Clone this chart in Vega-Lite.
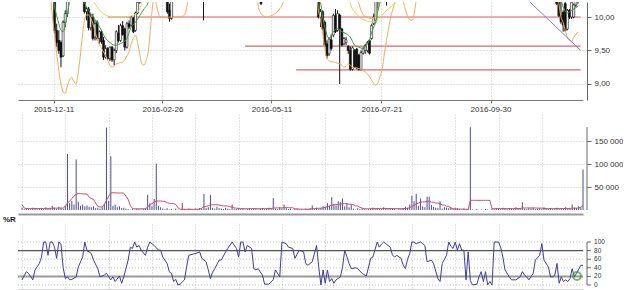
{
"$schema": "https://vega.github.io/schema/vega-lite/v6.json",
"padding": {"left": 3, "top": 0, "right": 0, "bottom": 0},
"background": "white",
"bounds": "flush",
"spacing": 14,
"resolve": {"scale": {"x": "independent", "y": "independent", "color": "independent"}},
"config": {
  "view": {"stroke": null},
  "font": "Liberation Sans",
  "axis": {"labelFont": "Liberation Sans", "labelFontSize": 8, "labelColor": "#333", "gridColor": "#c4c4c4", "gridDash": [1, 2], "gridWidth": 1, "domainColor": "#666", "tickColor": "#666", "labelFlush": false},
  "title": {"font": "Liberation Sans"}
},
"datasets": {
"lv": [{"a": 37.9, "b": 260.2, "p": 10.0}, {"a": 102.5, "b": 260.2, "p": 9.565}, {"a": 126.5, "b": 260.2, "p": 9.21}],
"tr": [{"i": 236.4, "p": 10.224}, {"i": 260.2, "p": 9.503}],
"mk": [{"i": 256.2, "r": 21}],
"rt": [{"r": 0, "t": "0"}, {"r": 20, "t": "20"}, {"r": 40, "t": "40"}, {"r": 60, "t": "60"}, {"r": 80, "t": "80"}, {"r": 100, "t": "100"}],
"px": [
{"i":13,"o":10.4,"h":10.45,"l":9.75,"c":9.8},{"i":14,"o":9.8,"h":9.9,"l":9.55,"c":9.62},{"i":15,"o":9.65,"h":9.8,"l":9.45,"c":9.5},{"i":16,"o":9.62,"h":9.65,"l":9.25,"c":9.4},{"i":17,"o":9.42,"h":9.95,"l":9.4,"c":9.92},{"i":18,"o":9.92,"h":10.1,"l":9.85,"c":10.05},{"i":19,"o":10.05,"h":10.35,"l":10.0,"c":10.3},
{"i":27,"o":10.38,"h":10.4,"l":10.05,"c":10.08},{"i":28,"o":10.08,"h":10.15,"l":9.95,"c":10.12},{"i":29,"o":10.12,"h":10.15,"l":9.8,"c":9.84},{"i":30,"o":9.84,"h":10.05,"l":9.8,"c":10.0},{"i":31,"o":10.0,"h":10.05,"l":9.65,"c":9.68},{"i":32,"o":9.7,"h":9.95,"l":9.65,"c":9.9},{"i":33,"o":9.92,"h":9.95,"l":9.65,"c":9.68},{"i":34,"o":9.68,"h":9.8,"l":9.6,"c":9.78},{"i":35,"o":9.78,"h":9.8,"l":9.6,"c":9.63},{"i":36,"o":9.65,"h":9.7,"l":9.36,"c":9.4},{"i":37,"o":9.4,"h":9.58,"l":9.38,"c":9.53},{"i":38,"o":9.53,"h":9.55,"l":9.36,"c":9.38},{"i":39,"o":9.38,"h":9.56,"l":9.34,"c":9.55},{"i":40,"o":9.55,"h":9.57,"l":9.33,"c":9.36},{"i":41,"o":9.36,"h":9.53,"l":9.28,"c":9.5},{"i":42,"o":9.5,"h":9.8,"l":9.46,"c":9.78},{"i":43,"o":9.76,"h":9.88,"l":9.62,"c":9.65},{"i":44,"o":9.65,"h":9.9,"l":9.63,"c":9.87},{"i":45,"o":9.87,"h":9.94,"l":9.72,"c":9.74},{"i":46,"o":9.82,"h":9.84,"l":9.5,"c":9.55},{"i":47,"o":9.55,"h":9.93,"l":9.53,"c":9.9},{"i":48,"o":9.9,"h":9.95,"l":9.82,"c":9.85},{"i":49,"o":9.88,"h":10.01,"l":9.86,"c":10.0},{"i":50,"o":9.98,"h":10.0,"l":9.76,"c":9.78},{"i":51,"o":9.8,"h":10.08,"l":9.78,"c":10.06},{"i":52,"o":10.06,"h":10.25,"l":10.04,"c":10.22},{"i":53,"o":10.22,"h":10.4,"l":10.2,"c":10.35},
{"i":66,"o":10.35,"h":10.4,"l":10.05,"c":10.08},{"i":67,"o":10.1,"h":10.2,"l":9.93,"c":9.98},{"i":68,"o":9.98,"h":10.3,"l":9.96,"c":10.25},{"i":83,"o":10.3,"h":10.35,"l":9.95,"c":10.28},
{"i":110,"o":10.35,"h":10.4,"l":10.18,"c":10.2},
{"i":137,"o":10.4,"h":10.45,"l":9.98,"c":10.0},{"i":138,"o":10.0,"h":10.12,"l":9.85,"c":10.08},{"i":139,"o":10.08,"h":10.1,"l":9.8,"c":9.83},{"i":140,"o":9.92,"h":9.95,"l":9.56,"c":9.58},{"i":141,"o":9.6,"h":9.65,"l":9.38,"c":9.42},{"i":142,"o":9.45,"h":9.7,"l":9.42,"c":9.67},{"i":143,"o":9.66,"h":9.74,"l":9.5,"c":9.53},{"i":144,"o":9.73,"h":10.05,"l":9.7,"c":10.02},{"i":145,"o":10.02,"h":10.12,"l":9.76,"c":9.78},{"i":146,"o":9.8,"h":10.1,"l":9.78,"c":10.05},{"i":147,"o":10.03,"h":10.05,"l":9.0,"c":9.82},{"i":148,"o":9.82,"h":9.84,"l":9.56,"c":9.58},{"i":149,"o":9.6,"h":9.7,"l":9.58,"c":9.68},{"i":150,"o":9.62,"h":9.7,"l":9.58,"c":9.66},{"i":151,"o":9.56,"h":9.58,"l":9.45,"c":9.5},{"i":152,"o":9.5,"h":9.56,"l":9.2,"c":9.22},{"i":153,"o":9.22,"h":9.56,"l":9.2,"c":9.54},{"i":154,"o":9.5,"h":9.52,"l":9.24,"c":9.26},{"i":155,"o":9.52,"h":9.54,"l":9.22,"c":9.24},{"i":156,"o":9.43,"h":9.45,"l":9.2,"c":9.22},{"i":157,"o":9.22,"h":9.5,"l":9.2,"c":9.47},{"i":158,"o":9.46,"h":9.55,"l":9.44,"c":9.53},{"i":159,"o":9.5,"h":9.6,"l":9.45,"c":9.57},{"i":160,"o":9.5,"h":9.64,"l":9.47,"c":9.62},{"i":161,"o":9.65,"h":9.67,"l":9.44,"c":9.46},{"i":162,"o":9.68,"h":9.9,"l":9.66,"c":9.87},{"i":163,"o":9.9,"h":10.05,"l":9.88,"c":10.0},{"i":164,"o":9.95,"h":10.3,"l":9.92,"c":10.25},{"i":165,"o":10.25,"h":10.35,"l":10.1,"c":10.3},{"i":169,"o":10.3,"h":10.35,"l":10.17,"c":10.28},
{"i":249,"o":10.4,"h":10.45,"l":10.18,"c":10.2},{"i":250,"o":10.25,"h":10.3,"l":10.0,"c":10.02},{"i":251,"o":10.02,"h":10.25,"l":9.9,"c":9.93},{"i":252,"o":10.07,"h":10.1,"l":9.78,"c":9.88},{"i":253,"o":10.2,"h":10.24,"l":9.78,"c":9.8},{"i":254,"o":9.82,"h":10.12,"l":9.8,"c":10.1},{"i":255,"o":10.1,"h":10.12,"l":9.97,"c":10.0},{"i":256,"o":10.0,"h":10.25,"l":9.97,"c":10.22},{"i":257,"o":10.0,"h":10.2,"l":9.98,"c":10.18},{"i":258,"o":10.18,"h":10.3,"l":10.15,"c":10.25},{"i":259,"o":10.25,"h":10.35,"l":10.2,"c":10.3}
],
"ln": [
{"i":11,"s":"lb","p":10.35},{"i":12,"s":"lb","p":10.0},{"i":13,"s":"lb","p":9.72},{"i":14,"s":"lb","p":9.45},{"i":15,"s":"lb","p":9.2},{"i":16,"s":"lb","p":9.0},{"i":17,"s":"lb","p":8.88},{"i":18,"s":"lb","p":8.86},{"i":19,"s":"lb","p":8.97},{"i":20,"s":"lb","p":9.06},{"i":21,"s":"lb","p":9.1},{"i":22,"s":"lb","p":9.04},{"i":23,"s":"lb","p":9.0},{"i":24,"s":"lb","p":9.15},{"i":25,"s":"lb","p":9.4},{"i":26,"s":"lb","p":9.7},{"i":27,"s":"lb","p":9.95},{"i":28,"s":"lb","p":10.03},{"i":29,"s":"lb","p":10.03},{"i":30,"s":"lb","p":9.98},{"i":31,"s":"lb","p":9.9},{"i":32,"s":"lb","p":9.78},{"i":33,"s":"lb","p":9.68},{"i":34,"s":"lb","p":9.6},{"i":35,"s":"lb","p":9.53},{"i":36,"s":"lb","p":9.48},{"i":37,"s":"lb","p":9.42},{"i":38,"s":"lb","p":9.35},{"i":39,"s":"lb","p":9.28},{"i":40,"s":"lb","p":9.25},{"i":41,"s":"lb","p":9.27},{"i":42,"s":"lb","p":9.3},{"i":43,"s":"lb","p":9.31},{"i":44,"s":"lb","p":9.32},{"i":45,"s":"lb","p":9.33},{"i":46,"s":"lb","p":9.36},{"i":47,"s":"lb","p":9.42},{"i":48,"s":"lb","p":9.48},{"i":49,"s":"lb","p":9.6},{"i":50,"s":"lb","p":9.68},{"i":51,"s":"lb","p":9.73},{"i":52,"s":"lb","p":9.62},{"i":53,"s":"lb","p":9.45},{"i":54,"s":"lb","p":9.3},{"i":55,"s":"lb","p":9.28},{"i":56,"s":"lb","p":9.35},{"i":57,"s":"lb","p":9.48},{"i":58,"s":"lb","p":9.8},{"i":59,"s":"lb","p":10.15},{"i":60,"s":"lb","p":10.3},{"i":61,"s":"lb","p":10.15},{"i":62,"s":"lb","p":10.04},{"i":63,"s":"lb","p":10.0},{"i":64,"s":"lb","p":10.0},{"i":65,"s":"lb","p":9.99},{"i":66,"s":"lb","p":9.99},{"i":67,"s":"lb","p":10.0},{"i":68,"s":"lb","p":10.0},{"i":69,"s":"lb","p":9.99},{"i":70,"s":"lb","p":10.0},{"i":71,"s":"lb","p":10.0},{"i":72,"s":"lb","p":10.0},{"i":73,"s":"lb","p":10.01},{"i":74,"s":"lb","p":10.03},{"i":75,"s":"lb","p":10.12},{"i":76,"s":"lb","p":10.3},{"i":108,"s":"lb","p":10.28},{"i":109,"s":"lb","p":10.12},{"i":110,"s":"lb","p":10.05},{"i":111,"s":"lb","p":10.02},{"i":112,"s":"lb","p":10.0},{"i":113,"s":"lb","p":10.0},{"i":114,"s":"lb","p":10.01},{"i":115,"s":"lb","p":10.02},{"i":116,"s":"lb","p":10.04},{"i":117,"s":"lb","p":10.06},{"i":118,"s":"lb","p":10.09},{"i":119,"s":"lb","p":10.13},{"i":120,"s":"lb","p":10.18},{"i":121,"s":"lb","p":10.28},{"i":136,"s":"lb","p":10.35},{"i":137,"s":"lb","p":10.1},{"i":138,"s":"lb","p":9.95},{"i":139,"s":"lb","p":9.75},{"i":140,"s":"lb","p":9.53},{"i":141,"s":"lb","p":9.38},{"i":142,"s":"lb","p":9.35},{"i":143,"s":"lb","p":9.33},{"i":144,"s":"lb","p":9.33},{"i":145,"s":"lb","p":9.32},{"i":146,"s":"lb","p":9.31},{"i":147,"s":"lb","p":9.3},{"i":148,"s":"lb","p":9.28},{"i":149,"s":"lb","p":9.25},{"i":150,"s":"lb","p":9.27},{"i":151,"s":"lb","p":9.3},{"i":152,"s":"lb","p":9.28},{"i":153,"s":"lb","p":9.25},{"i":154,"s":"lb","p":9.24},{"i":155,"s":"lb","p":9.24},{"i":156,"s":"lb","p":9.23},{"i":157,"s":"lb","p":9.22},{"i":158,"s":"lb","p":9.2},{"i":159,"s":"lb","p":9.18},{"i":160,"s":"lb","p":9.15},{"i":161,"s":"lb","p":9.11},{"i":162,"s":"lb","p":9.06},{"i":163,"s":"lb","p":9.01},{"i":164,"s":"lb","p":8.98},{"i":165,"s":"lb","p":9.02},{"i":166,"s":"lb","p":9.12},{"i":167,"s":"lb","p":9.23},{"i":168,"s":"lb","p":9.45},{"i":169,"s":"lb","p":9.65},{"i":170,"s":"lb","p":9.83},{"i":171,"s":"lb","p":10.0},{"i":172,"s":"lb","p":10.12},{"i":173,"s":"lb","p":10.22},{"i":174,"s":"lb","p":10.3},{"i":176,"s":"lb","p":10.35},{"i":177,"s":"lb","p":10.22},{"i":178,"s":"lb","p":10.1},{"i":179,"s":"lb","p":10.0},{"i":180,"s":"lb","p":9.96},{"i":181,"s":"lb","p":9.95},{"i":182,"s":"lb","p":10.05},{"i":183,"s":"lb","p":10.25},{"i":184,"s":"lb","p":10.35},{"i":249,"s":"lb","p":10.35},{"i":250,"s":"lb","p":10.2},{"i":251,"s":"lb","p":10.0},{"i":252,"s":"lb","p":9.92},{"i":253,"s":"lb","p":9.8},{"i":254,"s":"lb","p":9.7},{"i":255,"s":"lb","p":9.65},{"i":256,"s":"lb","p":9.63},{"i":257,"s":"lb","p":9.7},{"i":258,"s":"lb","p":9.74},{"i":259,"s":"lb","p":9.78},
{"i":154,"s":"ub","p":10.35},{"i":156,"s":"ub","p":10.2},{"i":157,"s":"ub","p":10.1},{"i":158,"s":"ub","p":10.04},{"i":159,"s":"ub","p":10.0},{"i":160,"s":"ub","p":9.99},{"i":161,"s":"ub","p":9.98},{"i":162,"s":"ub","p":9.98},{"i":163,"s":"ub","p":9.99},{"i":164,"s":"ub","p":10.02},{"i":165,"s":"ub","p":10.12},{"i":166,"s":"ub","p":10.3},
{"i":12,"s":"ma","p":10.35},{"i":13,"s":"ma","p":10.15},{"i":14,"s":"ma","p":10.02},{"i":15,"s":"ma","p":9.9},{"i":16,"s":"ma","p":9.8},{"i":17,"s":"ma","p":9.78},{"i":18,"s":"ma","p":9.88},{"i":19,"s":"ma","p":10.05},{"i":20,"s":"ma","p":10.22},{"i":21,"s":"ma","p":10.35},{"i":26,"s":"ma","p":10.35},{"i":27,"s":"ma","p":10.22},{"i":29,"s":"ma","p":10.1},{"i":31,"s":"ma","p":10.0},{"i":33,"s":"ma","p":9.92},{"i":35,"s":"ma","p":9.8},{"i":37,"s":"ma","p":9.68},{"i":39,"s":"ma","p":9.62},{"i":41,"s":"ma","p":9.58},{"i":43,"s":"ma","p":9.59},{"i":45,"s":"ma","p":9.62},{"i":47,"s":"ma","p":9.68},{"i":49,"s":"ma","p":9.85},{"i":51,"s":"ma","p":9.92},{"i":53,"s":"ma","p":10.02},{"i":55,"s":"ma","p":10.12},{"i":57,"s":"ma","p":10.22},{"i":58,"s":"ma","p":10.35},{"i":137,"s":"ma","p":10.35},{"i":138,"s":"ma","p":10.22},{"i":139,"s":"ma","p":10.0},{"i":140,"s":"ma","p":9.85},{"i":142,"s":"ma","p":9.68},{"i":144,"s":"ma","p":9.78},{"i":146,"s":"ma","p":9.83},{"i":148,"s":"ma","p":9.78},{"i":150,"s":"ma","p":9.75},{"i":152,"s":"ma","p":9.7},{"i":154,"s":"ma","p":9.58},{"i":156,"s":"ma","p":9.55},{"i":158,"s":"ma","p":9.53},{"i":160,"s":"ma","p":9.6},{"i":161,"s":"ma","p":9.66},{"i":162,"s":"ma","p":9.77},{"i":163,"s":"ma","p":9.85},{"i":164,"s":"ma","p":9.93},{"i":165,"s":"ma","p":10.1},{"i":166,"s":"ma","p":10.22},{"i":167,"s":"ma","p":10.35},{"i":250,"s":"ma","p":10.35},{"i":252,"s":"ma","p":10.15},{"i":254,"s":"ma","p":10.06},{"i":256,"s":"ma","p":10.1},{"i":259,"s":"ma","p":10.16},
{"i":30,"s":"ma2","p":10.3},{"i":33,"s":"ma2","p":10.15},{"i":36,"s":"ma2","p":10.05},{"i":40,"s":"ma2","p":10.0},{"i":44,"s":"ma2","p":9.995},{"i":48,"s":"ma2","p":10.01},{"i":51,"s":"ma2","p":10.04},{"i":53,"s":"ma2","p":10.12},{"i":55,"s":"ma2","p":10.3},{"i":150,"s":"ma2","p":10.35},{"i":153,"s":"ma2","p":10.12},{"i":155,"s":"ma2","p":10.04},{"i":157,"s":"ma2","p":9.98},{"i":159,"s":"ma2","p":9.95},{"i":161,"s":"ma2","p":9.93},{"i":163,"s":"ma2","p":9.93},{"i":165,"s":"ma2","p":9.96},{"i":167,"s":"ma2","p":10.03},{"i":169,"s":"ma2","p":10.1},{"i":171,"s":"ma2","p":10.15},{"i":173,"s":"ma2","p":10.22},{"i":175,"s":"ma2","p":10.35}
],
"vol": [
{"i":0,"v":5000,"m":11500},{"i":1,"v":2000,"m":4300},{"i":2,"v":4000,"m":3000},{"i":3,"v":3000,"m":3000},{"i":4,"v":2000,"m":3200},{"i":5,"v":5000,"m":3200},{"i":6,"v":3000,"m":3300},{"i":7,"v":2000,"m":3100},{"i":8,"v":4000,"m":3200},{"i":9,"v":3000,"m":3300},{"i":10,"v":2000,"m":3200},{"i":11,"v":6000,"m":3400},{"i":12,"v":3000,"m":3300},{"i":13,"v":4000,"m":3500},{"i":14,"v":9000,"m":4000},{"i":15,"v":5000,"m":4100},{"i":16,"v":3000,"m":4000},{"i":17,"v":7000,"m":4400},{"i":18,"v":4000,"m":4300},{"i":19,"v":3000,"m":4200},
{"i":20,"v":10000,"m":8000},{"i":21,"v":122000,"m":16000},{"i":22,"v":15000,"m":19000},{"i":23,"v":20000,"m":25000},{"i":24,"v":12000,"m":30000},{"i":25,"v":110000,"m":35000},{"i":26,"v":18000,"m":35500},{"i":27,"v":9000,"m":35500},{"i":28,"v":12000,"m":35000},{"i":29,"v":8000,"m":35000},{"i":30,"v":10000,"m":34500},{"i":31,"v":7000,"m":28000},{"i":32,"v":6000,"m":25000},{"i":33,"v":8000,"m":23000},{"i":34,"v":4000,"m":15000},{"i":35,"v":5000,"m":8000},{"i":36,"v":3000,"m":6500},{"i":37,"v":6000,"m":6500},{"i":38,"v":14000,"m":12000},{"i":39,"v":179000,"m":21000},
{"i":40,"v":20000,"m":30000},{"i":41,"v":117000,"m":37000},{"i":42,"v":9000,"m":37500},{"i":43,"v":12000,"m":37500},{"i":44,"v":6000,"m":37000},{"i":45,"v":8000,"m":37000},{"i":46,"v":4000,"m":37000},{"i":47,"v":5000,"m":36500},{"i":48,"v":3000,"m":30000},{"i":49,"v":2000,"m":23000},{"i":50,"v":1000,"m":10000},{"i":51,"v":2000,"m":3000},{"i":52,"v":1000,"m":2800},{"i":53,"v":3000,"m":2600},{"i":54,"v":2000,"m":2500},{"i":55,"v":1000,"m":2600},{"i":56,"v":2000,"m":2800},{"i":57,"v":3000,"m":3000},{"i":58,"v":33000,"m":6000},{"i":59,"v":14000,"m":12000},
{"i":60,"v":8000,"m":13700},{"i":61,"v":24000,"m":17000},{"i":62,"v":101000,"m":19500},{"i":63,"v":9000,"m":19500},{"i":64,"v":6000,"m":19500},{"i":65,"v":3000,"m":19000},{"i":66,"v":2000,"m":18500},{"i":67,"v":4000,"m":16000},{"i":68,"v":1000,"m":14500},{"i":69,"v":2000,"m":14000},{"i":70,"v":0,"m":13500},{"i":71,"v":3000,"m":12000},{"i":72,"v":1000,"m":5000},{"i":73,"v":0,"m":1500},{"i":74,"v":15000,"m":1500},{"i":75,"v":2000,"m":1500},{"i":76,"v":1000,"m":1500},{"i":77,"v":3000,"m":1600},{"i":78,"v":2000,"m":1500},{"i":79,"v":1000,"m":1400},
{"i":80,"v":3000,"m":1500},{"i":81,"v":2000,"m":1600},{"i":82,"v":4000,"m":2000},{"i":83,"v":3000,"m":4000},{"i":84,"v":35000,"m":7000},{"i":85,"v":4000,"m":8000},{"i":86,"v":6000,"m":9000},{"i":87,"v":33000,"m":11000},{"i":88,"v":5000,"m":11200},{"i":89,"v":3000,"m":11500},{"i":90,"v":7000,"m":11300},{"i":91,"v":4000,"m":11000},{"i":92,"v":3000,"m":9500},{"i":93,"v":2000,"m":9000},{"i":94,"v":5000,"m":9000},{"i":95,"v":3000,"m":8500},{"i":96,"v":2000,"m":7000},{"i":97,"v":12000,"m":6000},{"i":98,"v":3000,"m":4500},{"i":99,"v":2000,"m":4000},
{"i":100,"v":4000,"m":3500},{"i":101,"v":2000,"m":3000},{"i":102,"v":3000,"m":3000},{"i":103,"v":1000,"m":2800},{"i":104,"v":2000,"m":2800},{"i":105,"v":4000,"m":3000},{"i":106,"v":2000,"m":3000},{"i":107,"v":3000,"m":3100},{"i":108,"v":2000,"m":3000},{"i":109,"v":1000,"m":2800},{"i":110,"v":3000,"m":2800},{"i":111,"v":4000,"m":2900},{"i":112,"v":2000,"m":3000},{"i":113,"v":3000,"m":3000},{"i":114,"v":5000,"m":3200},{"i":115,"v":2000,"m":3100},{"i":116,"v":26000,"m":4500},{"i":117,"v":3000,"m":4500},{"i":118,"v":2000,"m":4500},{"i":119,"v":6000,"m":4600},
{"i":120,"v":3000,"m":4500},{"i":121,"v":12000,"m":5200},{"i":122,"v":4000,"m":5200},{"i":123,"v":2000,"m":5100},{"i":124,"v":3000,"m":5000},{"i":125,"v":1000,"m":4800},{"i":126,"v":2000,"m":2500},{"i":127,"v":3000,"m":2400},{"i":128,"v":1000,"m":2000},{"i":129,"v":2000,"m":1800},{"i":130,"v":1000,"m":1600},{"i":131,"v":3000,"m":1700},{"i":132,"v":2000,"m":1800},{"i":133,"v":4000,"m":2000},{"i":134,"v":10000,"m":2800},{"i":135,"v":2000,"m":3000},{"i":136,"v":5000,"m":3500},{"i":137,"v":3000,"m":3800},{"i":138,"v":4000,"m":4000},{"i":139,"v":8000,"m":4500},
{"i":140,"v":6000,"m":6000},{"i":141,"v":15000,"m":7000},{"i":142,"v":9000,"m":9000},{"i":143,"v":28000,"m":10000},{"i":144,"v":12000,"m":12000},{"i":145,"v":10000,"m":12000},{"i":146,"v":19000,"m":12500},{"i":147,"v":17000,"m":13000},{"i":148,"v":25000,"m":13700},{"i":149,"v":8000,"m":13700},{"i":150,"v":15000,"m":13700},{"i":151,"v":6000,"m":12500},{"i":152,"v":12000,"m":12500},{"i":153,"v":3000,"m":11500},{"i":154,"v":1000,"m":9000},{"i":155,"v":4000,"m":9000},{"i":156,"v":2000,"m":6000},{"i":157,"v":3000,"m":4000},{"i":158,"v":2000,"m":3000},{"i":159,"v":1000,"m":2800},
{"i":160,"v":2000,"m":2800},{"i":161,"v":3000,"m":2900},{"i":162,"v":5000,"m":3000},{"i":163,"v":2000,"m":3000},{"i":164,"v":4000,"m":3000},{"i":165,"v":3000,"m":3100},{"i":166,"v":2000,"m":3000},{"i":167,"v":6000,"m":3200},{"i":168,"v":3000,"m":3300},{"i":169,"v":2000,"m":3200},{"i":170,"v":4000,"m":3300},{"i":171,"v":3000,"m":3200},{"i":172,"v":2000,"m":3100},{"i":173,"v":1000,"m":3000},{"i":174,"v":3000,"m":3000},{"i":175,"v":2000,"m":2900},{"i":176,"v":4000,"m":3000},{"i":177,"v":7000,"m":3300},{"i":178,"v":5000,"m":3500},{"i":179,"v":12000,"m":5000},
{"i":180,"v":31000,"m":8000},{"i":181,"v":19000,"m":10000},{"i":182,"v":35000,"m":13000},{"i":183,"v":9000,"m":15000},{"i":184,"v":25000,"m":17000},{"i":185,"v":8000,"m":17500},{"i":186,"v":6000,"m":17500},{"i":187,"v":29000,"m":19000},{"i":188,"v":29000,"m":19000},{"i":189,"v":11000,"m":17000},{"i":190,"v":7000,"m":17000},{"i":191,"v":5000,"m":15000},{"i":192,"v":4000,"m":15000},{"i":193,"v":19000,"m":13700},{"i":194,"v":3000,"m":11000},{"i":195,"v":6000,"m":11000},{"i":196,"v":5000,"m":8000},{"i":197,"v":4000,"m":8000},{"i":198,"v":7000,"m":4300},{"i":199,"v":3000,"m":2500},
{"i":200,"v":5000,"m":2200},{"i":201,"v":4000,"m":2000},{"i":202,"v":2000,"m":2000},{"i":203,"v":1000,"m":2000},{"i":204,"v":3000,"m":1800},{"i":205,"v":1000,"m":1600},{"i":206,"v":2000,"m":1400},{"i":207,"v":180000,"m":21000},{"i":208,"v":1000,"m":21000},{"i":209,"v":0,"m":21000},{"i":210,"v":2000,"m":21000},{"i":211,"v":0,"m":21000},{"i":212,"v":1000,"m":21000},{"i":213,"v":0,"m":21000},{"i":214,"v":2000,"m":21000},{"i":215,"v":1000,"m":21000},{"i":216,"v":0,"m":21000},{"i":217,"v":3000,"m":3000},{"i":218,"v":2000,"m":2800},{"i":219,"v":4000,"m":3000},
{"i":220,"v":3000,"m":3000},{"i":221,"v":2000,"m":2900},{"i":222,"v":5000,"m":3100},{"i":223,"v":3000,"m":3000},{"i":224,"v":2000,"m":3000},{"i":225,"v":4000,"m":3100},{"i":226,"v":3000,"m":3000},{"i":227,"v":2000,"m":3000},{"i":228,"v":6000,"m":3200},{"i":229,"v":3000,"m":3200},{"i":230,"v":4000,"m":3300},{"i":231,"v":17000,"m":4500},{"i":232,"v":3000,"m":4500},{"i":233,"v":2000,"m":4400},{"i":234,"v":4000,"m":4500},{"i":235,"v":3000,"m":4400},{"i":236,"v":5000,"m":4500},{"i":237,"v":2000,"m":4300},{"i":238,"v":3000,"m":4300},{"i":239,"v":4000,"m":4200},
{"i":240,"v":2000,"m":4000},{"i":241,"v":6000,"m":3200},{"i":242,"v":3000,"m":3200},{"i":243,"v":2000,"m":3100},{"i":244,"v":4000,"m":3100},{"i":245,"v":2000,"m":3000},{"i":246,"v":3000,"m":3000},{"i":247,"v":5000,"m":3200},{"i":248,"v":2000,"m":3100},{"i":249,"v":4000,"m":3200},{"i":250,"v":3000,"m":3200},{"i":251,"v":6000,"m":3400},{"i":252,"v":4000,"m":3400},{"i":253,"v":3000,"m":3400},{"i":254,"v":12000,"m":4000},{"i":255,"v":5000,"m":4100},{"i":256,"v":4000,"m":4100},{"i":257,"v":8000,"m":4300},{"i":258,"v":6000,"m":6000},{"i":259,"v":88000,"m":10000}
],
"wr": [
{"i":0,"r":12},{"i":2,"r":31},{"i":3,"r":27},{"i":5,"r":12},{"i":6,"r":35},{"i":8,"r":50},{"i":9,"r":65},{"i":10,"r":100},{"i":11,"r":100},{"i":12,"r":69},{"i":13,"r":100},{"i":14,"r":100},{"i":15,"r":88},{"i":16,"r":62},{"i":17,"r":100},{"i":18,"r":95},{"i":19,"r":40},{"i":20,"r":15},{"i":21,"r":19},{"i":22,"r":12},{"i":23,"r":13},{"i":25,"r":19},{"i":26,"r":42},{"i":28,"r":65},{"i":29,"r":100},{"i":30,"r":80},{"i":31,"r":77},{"i":32,"r":73},{"i":33,"r":58},{"i":35,"r":38},{"i":36,"r":19},{"i":38,"r":23},{"i":39,"r":27},{"i":41,"r":12},{"i":42,"r":19},{"i":43,"r":8},{"i":45,"r":21},{"i":46,"r":4},{"i":47,"r":19},{"i":49,"r":58},{"i":50,"r":88},{"i":51,"r":85},{"i":52,"r":100},{"i":53,"r":88},{"i":54,"r":92},{"i":55,"r":81},{"i":57,"r":69},{"i":58,"r":88},{"i":59,"r":100},{"i":61,"r":92},{"i":63,"r":81},{"i":64,"r":81},{"i":65,"r":65},{"i":67,"r":50},{"i":68,"r":31},{"i":69,"r":27},{"i":70,"r":8},{"i":71,"r":13},{"i":72,"r":0},{"i":73,"r":2},{"i":75,"r":12},{"i":76,"r":42},{"i":77,"r":69},{"i":79,"r":72},{"i":80,"r":73},{"i":82,"r":77},{"i":83,"r":62},{"i":85,"r":54},{"i":86,"r":35},{"i":87,"r":15},{"i":88,"r":30},{"i":89,"r":38},{"i":91,"r":58},{"i":92,"r":58},{"i":94,"r":77},{"i":95,"r":85},{"i":97,"r":100},{"i":99,"r":85},{"i":100,"r":65},{"i":101,"r":100},{"i":102,"r":100},{"i":103,"r":77},{"i":104,"r":92},{"i":106,"r":85},{"i":107,"r":38},{"i":108,"r":35},{"i":109,"r":38},{"i":111,"r":23},{"i":112,"r":2},{"i":114,"r":2},{"i":116,"r":12},{"i":117,"r":35},{"i":119,"r":19},{"i":120,"r":100},{"i":122,"r":96},{"i":123,"r":88},{"i":125,"r":85},{"i":126,"r":62},{"i":128,"r":81},{"i":130,"r":77},{"i":131,"r":50},{"i":132,"r":46},{"i":134,"r":54},{"i":136,"r":92},{"i":137,"r":42},{"i":138,"r":0},{"i":139,"r":35},{"i":140,"r":4},{"i":141,"r":35},{"i":142,"r":8},{"i":143,"r":15},{"i":144,"r":4},{"i":145,"r":12},{"i":147,"r":19},{"i":148,"r":42},{"i":149,"r":81},{"i":151,"r":50},{"i":152,"r":38},{"i":154,"r":40},{"i":155,"r":38},{"i":157,"r":27},{"i":158,"r":24},{"i":159,"r":21},{"i":160,"r":42},{"i":161,"r":62},{"i":162,"r":65},{"i":164,"r":100},{"i":165,"r":88},{"i":166,"r":95},{"i":167,"r":100},{"i":168,"r":96},{"i":169,"r":92},{"i":170,"r":88},{"i":171,"r":70},{"i":172,"r":65},{"i":173,"r":69},{"i":175,"r":62},{"i":176,"r":46},{"i":177,"r":38},{"i":178,"r":60},{"i":179,"r":73},{"i":180,"r":100},{"i":181,"r":100},{"i":182,"r":96},{"i":184,"r":100},{"i":185,"r":96},{"i":186,"r":92},{"i":187,"r":54},{"i":189,"r":58},{"i":190,"r":50},{"i":192,"r":15},{"i":193,"r":8},{"i":194,"r":50},{"i":196,"r":69},{"i":197,"r":100},{"i":198,"r":90},{"i":199,"r":85},{"i":200,"r":100},{"i":201,"r":81},{"i":202,"r":96},{"i":203,"r":81},{"i":204,"r":81},{"i":205,"r":12},{"i":206,"r":77},{"i":207,"r":10},{"i":208,"r":0},{"i":210,"r":2},{"i":211,"r":19},{"i":212,"r":31},{"i":213,"r":8},{"i":214,"r":31},{"i":215,"r":0},{"i":216,"r":8},{"i":217,"r":0},{"i":218,"r":100},{"i":220,"r":100},{"i":221,"r":88},{"i":222,"r":65},{"i":223,"r":35},{"i":225,"r":19},{"i":226,"r":12},{"i":228,"r":12},{"i":230,"r":19},{"i":231,"r":31},{"i":232,"r":23},{"i":233,"r":19},{"i":234,"r":12},{"i":236,"r":27},{"i":237,"r":58},{"i":239,"r":69},{"i":240,"r":96},{"i":241,"r":58},{"i":243,"r":42},{"i":244,"r":19},{"i":245,"r":19},{"i":246,"r":23},{"i":247,"r":50},{"i":248,"r":4},{"i":249,"r":19},{"i":250,"r":8},{"i":251,"r":12},{"i":252,"r":8},{"i":253,"r":15},{"i":254,"r":38},{"i":255,"r":19},{"i":256,"r":27},{"i":258,"r":46},{"i":259,"r":46}
]
},
"vconcat": [
{
 "width": 565, "height": 98,
 "layer": [
  {"data": {"name": "lv"}, "mark": {"type": "rule", "color": "#d9676a", "strokeWidth": 1.2},
   "encoding": {
    "x": {"field": "a", "type": "quantitative", "scale": {"domain": [-1.85, 259], "nice": false, "zero": false},
      "axis": {"title": null, "values": [12.5, 63.7, 114.9, 166.6, 217.9], "labelExpr": "datum.value < 30 ? '2015-12-11' : datum.value < 90 ? '2016-02-26' : datum.value < 140 ? '2016-05-11' : datum.value < 190 ? '2016-07-21' : '2016-09-30'", "grid": true, "tickSize": 3, "labelPadding": 2, "domainColor": "#777", "tickColor": "#777"}},
    "x2": {"field": "b"},
    "y": {"field": "p", "type": "quantitative", "scale": {"domain": [8.761, 10.224], "nice": false, "zero": false},
      "axis": {"title": null, "orient": "right", "values": [9, 9.5, 10], "labelExpr": "replace(format(datum.value, '.2f'), '.', ',')", "offset": 4, "tickSize": 4, "labelPadding": 3, "grid": true}}
   }},
  {"data": {"name": "px"}, "mark": {"type": "rule", "clip": true, "color": "#111", "strokeWidth": 1},
   "encoding": {"x": {"field": "i", "type": "quantitative", "axis": {"title": null}}, "y": {"field": "l", "type": "quantitative", "axis": {"title": null}}, "y2": {"field": "h"}}},
  {"data": {"name": "px"}, "mark": {"type": "bar", "clip": true, "width": 2, "stroke": "#111", "strokeWidth": 0.6},
   "encoding": {"x": {"field": "i", "type": "quantitative", "axis": {"title": null}}, "y": {"field": "o", "type": "quantitative", "axis": {"title": null}}, "y2": {"field": "c"},
    "fill": {"condition": {"test": "datum.c >= datum.o", "value": "#ffffff"}, "value": "#111111"}}},
  {"data": {"name": "ln"}, "mark": {"type": "line", "clip": true, "strokeWidth": 1, "interpolate": "monotone"},
   "encoding": {"x": {"field": "i", "type": "quantitative", "axis": {"title": null}}, "y": {"field": "p", "type": "quantitative", "axis": {"title": null}},
    "color": {"field": "s", "type": "nominal", "scale": {"domain": ["lb", "ub", "ma", "ma2"], "range": ["#f0ad5a", "#f0ad5a", "#3f9c3f", "#dcd45c"]}, "legend": null}}},
  {"data": {"name": "tr"}, "mark": {"type": "line", "color": "#7f7fc8", "strokeWidth": 1},
   "encoding": {"x": {"field": "i", "type": "quantitative", "axis": {"title": null}}, "y": {"field": "p", "type": "quantitative", "axis": {"title": null}}}}
 ]
},
{
 "width": 565, "height": 96,
 "layer": [
  {"data": {"name": "vol"}, "mark": {"type": "rule", "color": "#4d4d94", "strokeWidth": 1},
   "encoding": {
    "x": {"field": "i", "type": "quantitative", "scale": {"domain": [-1.85, 259], "nice": false, "zero": false},
      "axis": {"title": null, "values": [0, 20, 40, 60, 80, 100, 120, 140, 160, 180, 200, 220, 240], "grid": true, "labels": false, "ticks": false, "domainColor": "#999", "domainWidth": 2, "offset": 4}},
    "y": {"field": "v", "type": "quantitative", "scale": {"domain": [0, 208700], "nice": false, "zero": false},
      "axis": {"title": null, "orient": "right", "values": [50000, 100000, 150000], "labelExpr": "replace(format(datum.value, ','), ',', ' ')", "offset": 4, "domain": false, "tickSize": 4, "labelPadding": 3, "grid": true}},
    "y2": {"datum": 0}
   }},
  {"data": {"name": "vol"}, "mark": {"type": "line", "color": "#c8506a", "strokeWidth": 1},
   "encoding": {"x": {"field": "i", "type": "quantitative", "axis": {"title": null}}, "y": {"field": "m", "type": "quantitative", "axis": {"title": null}}}},
  {"data": {"values": [{"k": 0}]}, "mark": {"type": "rule", "color": "#666", "strokeWidth": 1},
   "encoding": {"x": {"datum": 260.85}, "y": {"datum": 0}, "y2": {"datum": 180000}}}
 ]
},
{
 "width": 565, "height": 66,
 "title": {"text": "%R", "anchor": "start", "frame": "group", "dx": -15, "dy": 6, "offset": 0, "baseline": "alphabetic", "fontSize": 8, "fontWeight": "bold", "color": "#222"},
 "layer": [
  {"data": {"name": "rt"}, "mark": {"type": "rule", "color": "#c4c4c4", "strokeWidth": 1, "strokeDash": [1, 2]},
   "encoding": {"x": {"datum": -1.85, "scale": {"domain": [-1.85, 259], "nice": false, "zero": false}}, "x2": {"datum": 259},
    "y": {"field": "r", "type": "quantitative", "scale": {"domain": [-11.63, 141.86], "nice": false, "zero": false}, "axis": null}}},
  {"data": {"values": [{"k": 0}]}, "mark": {"type": "rule", "color": "#555555", "strokeWidth": 1.2},
   "encoding": {"x": {"datum": -1.85}, "x2": {"datum": 259}, "y": {"datum": 80, "axis": null}}},
  {"data": {"values": [{"k": 0}]}, "mark": {"type": "rule", "color": "#9a9a9a", "strokeWidth": 2},
   "encoding": {"x": {"datum": -1.85}, "x2": {"datum": 259}, "y": {"datum": 20, "axis": null}}},
  {"data": {"name": "wr"}, "mark": {"type": "line", "color": "#3d3d9e", "strokeWidth": 1},
   "encoding": {
    "x": {"field": "i", "type": "quantitative",
      "axis": {"title": null, "values": [0, 20, 40, 60, 80, 100, 120, 140, 160, 180, 200, 220, 240], "grid": true, "labels": false, "ticks": false, "domainColor": "#555", "domainWidth": 1.5}},
    "y": {"field": "r", "type": "quantitative", "axis": null}
   }},
  {"data": {"values": [{"k": 0}]}, "mark": {"type": "rule", "color": "#666", "strokeWidth": 1},
   "encoding": {"x": {"datum": 260.85}, "y": {"datum": 0, "axis": null}, "y2": {"datum": 100}}},
  {"data": {"name": "rt"}, "mark": {"type": "rule", "color": "#666", "strokeWidth": 1},
   "encoding": {"x": {"datum": 260.85}, "x2": {"datum": 262.7}, "y": {"field": "r", "type": "quantitative", "axis": null}}},
  {"data": {"name": "rt"}, "mark": {"type": "text", "align": "left", "baseline": "middle", "fontSize": 6.5, "font": "Liberation Sans", "color": "#333"},
   "encoding": {"x": {"datum": 264.1}, "y": {"field": "r", "type": "quantitative", "axis": null}, "text": {"field": "t"}}},
  {"data": {"name": "mk"}, "mark": {"type": "point", "filled": false, "color": "#3a9a3a", "strokeWidth": 2, "size": 64},
   "encoding": {"x": {"field": "i", "type": "quantitative"}, "y": {"field": "r", "type": "quantitative", "axis": null}}}
 ]
}
]
}
